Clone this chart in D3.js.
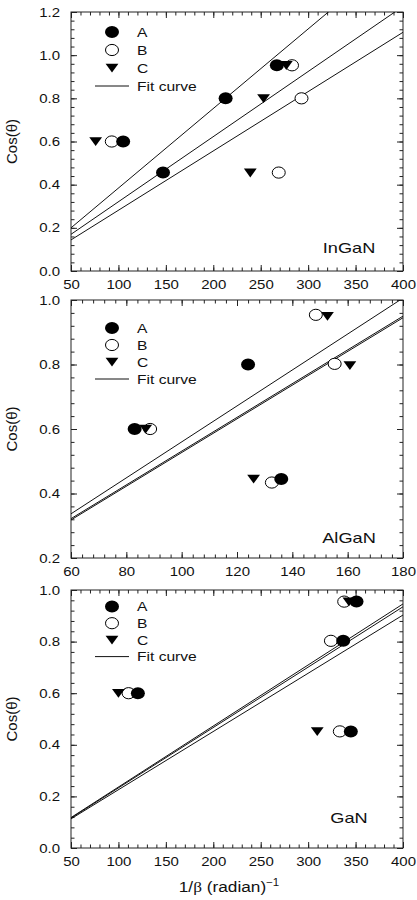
<!DOCTYPE html>
<html>
<head>
<meta charset="utf-8">
<script src="https://cdn.jsdelivr.net/npm/d3@7/dist/d3.min.js"></script>
<style>
body{margin:0;background:#fff;}
svg{display:block;}
text{font-family:"Liberation Sans",Arial,sans-serif;fill:#111;}
</style>
</head>
<body>
<script>
//panel and series names
var panelNames = ["InGaN", "AlGaN", "GaN"];
var seriesNames = ["A", "B", "C"];
var fitName = "Fit curve";

//axis domains and tick labels
var inganXTicks = [50, 100, 150, 200, 250, 300, 350, 400];
var inganYTicks = [0.0, 0.2, 0.4, 0.6, 0.8, 1.0, 1.2];
var alganXTicks = [60, 80, 100, 120, 140, 160, 180];
var alganYTicks = [0.2, 0.4, 0.6, 0.8, 1.0];
var ganXTicks = [50, 100, 150, 200, 250, 300, 350, 400];
var ganYTicks = [0.0, 0.2, 0.4, 0.6, 0.8, 1.0];

//points [1/beta, cos(theta)]
var inganA = [[105, 0.60], [147, 0.456], [213, 0.80], [267, 0.953]];
var inganB = [[93, 0.60], [269, 0.456], [293, 0.80], [283, 0.953]];
var inganC = [[76, 0.60], [239, 0.455], [253, 0.80], [277, 0.953]];
var alganA = [[83, 0.60], [124, 0.80], [136, 0.445]];
var alganB = [[88.6, 0.60], [132.6, 0.434], [148.5, 0.954], [155.3, 0.802]];
var alganC = [[87, 0.60], [126, 0.445], [152.7, 0.95], [160.8, 0.797]];
var ganA = [[120.5, 0.60], [337, 0.803], [345, 0.452], [351, 0.955]];
var ganB = [[110.7, 0.60], [324, 0.803], [333.4, 0.452], [338, 0.955]];
var ganC = [[100, 0.60], [309.6, 0.452], [343, 0.955]];

//fit lines: value at left and right end of the x axis
var inganFit = [[0.200, 1.490], [0.170, 1.226], [0.144, 1.106]];
var alganFit = [[0.337, 1.006], [0.322, 0.950], [0.318, 0.945]];
var ganFit = [[0.118, 0.946], [0.116, 0.935], [0.113, 0.903]];

//layout
var width = 417, height = 900;
var plotLeft = 71, plotRight = 403;
var panelTops = [12, 300, 590], panelBottoms = [271, 558, 848];
var xMinorSteps = [10, 4, 10];
var legendTops = [32, 328, 606.5], legendSteps = [18, 17, 16.7];
var labelBaselines = [253, 543, 823];

var panels = [
    {name: panelNames[0], xTicks: inganXTicks, yTicks: inganYTicks, series: [inganA, inganB, inganC], fits: inganFit},
    {name: panelNames[1], xTicks: alganXTicks, yTicks: alganYTicks, series: [alganA, alganB, alganC], fits: alganFit},
    {name: panelNames[2], xTicks: ganXTicks, yTicks: ganYTicks, series: [ganA, ganB, ganC], fits: ganFit}
];

var svg = d3.select("body").append("svg")
    .attr("width", width)
    .attr("height", height);

//the text in the figure is a bit wider than plain Arial
function stretchText(sel, k){
    sel.each(function(){
        var t = d3.select(this);
        var x = +t.attr("x") || 0, y = +t.attr("y") || 0;
        t.attr("x", null).attr("y", null)
            .attr("transform", "translate(" + x + "," + y + ") scale(" + k + ",1)");
    });
}

//draw a marker for series i
function drawMarker(g, i){
    if (i == 0){
        g.append("ellipse").attr("rx", 7).attr("ry", 6).attr("fill", "#000");
    } else if (i == 1){
        g.append("ellipse").attr("rx", 6.5).attr("ry", 5.6)
            .attr("fill", "#fff").attr("stroke", "#000").attr("stroke-width", 1);
    } else {
        g.append("path").attr("d", "M-6.4,-4.2L6.4,-4.2L0,4.6Z").attr("fill", "#000");
    }
}

panels.forEach(function(p, k){
    var top = panelTops[k], bottom = panelBottoms[k];
    var xDom = [p.xTicks[0], p.xTicks[p.xTicks.length - 1]];
    var yDom = [p.yTicks[0], p.yTicks[p.yTicks.length - 1]];

    var x = d3.scaleLinear().domain(xDom).range([plotLeft, plotRight]);
    var y = d3.scaleLinear().domain(yDom).range([bottom, top]);

    var g = svg.append("g").attr("class", "panel");

    //minor ticks
    var xMinor = d3.range(xDom[0], xDom[1] + 0.001, xMinorSteps[k]);
    var yMinor = d3.range(yDom[0], yDom[1] + 0.0001, 0.04);

    function addAxis(axis, tx, ty){
        var a = g.append("g")
            .attr("transform", "translate(" + tx + "," + ty + ")")
            .call(axis);
        a.select(".domain").remove();
        a.selectAll("line").attr("stroke", "#222");
        return a;
    }

    addAxis(d3.axisBottom(x).tickValues(xMinor).tickSize(-3.5).tickFormat(""), 0, bottom);
    addAxis(d3.axisTop(x).tickValues(xMinor).tickSize(-3.5).tickFormat(""), 0, top);
    addAxis(d3.axisLeft(y).tickValues(yMinor).tickSize(-3.5).tickFormat(""), plotLeft, 0);
    addAxis(d3.axisRight(y).tickValues(yMinor).tickSize(-3.5).tickFormat(""), plotRight, 0);

    var xb = addAxis(d3.axisBottom(x).tickValues(p.xTicks).tickSize(-6).tickPadding(9.6)
        .tickFormat(d3.format("d")), 0, bottom);
    addAxis(d3.axisTop(x).tickValues(p.xTicks).tickSize(-6).tickFormat(""), 0, top);
    var yl = addAxis(d3.axisLeft(y).tickValues(p.yTicks).tickSize(-6).tickPadding(11)
        .tickFormat(d3.format(".1f")), plotLeft, 0);
    addAxis(d3.axisRight(y).tickValues(p.yTicks).tickSize(-6).tickFormat(""), plotRight, 0);

    [xb, yl].forEach(function(a){
        a.attr("font-size", 12.5).attr("font-family", "Liberation Sans, Arial, sans-serif");
        a.selectAll("text").attr("fill", "#111");
        stretchText(a.selectAll("text"), 1.2);
    });

    //frame
    g.append("rect")
        .attr("x", plotLeft).attr("y", top)
        .attr("width", plotRight - plotLeft).attr("height", bottom - top)
        .attr("fill", "none").attr("stroke", "#222").attr("stroke-width", 1);

    //fit lines, clipped to the plot area
    var clipId = "clip" + k;
    svg.append("clipPath").attr("id", clipId).append("rect")
        .attr("x", plotLeft).attr("y", top)
        .attr("width", plotRight - plotLeft).attr("height", bottom - top);

    var line = d3.line()
        .x(function(d){ return x(d[0]); })
        .y(function(d){ return y(d[1]); });

    g.append("g").attr("clip-path", "url(#" + clipId + ")")
        .selectAll("path")
        .data(p.fits)
        .enter()
        .append("path")
        .attr("d", function(d){ return line([[xDom[0], d[0]], [xDom[1], d[1]]]); })
        .attr("fill", "none")
        .attr("stroke", "#111")
        .attr("stroke-width", 1);

    //points: B first, then A, then C on top
    [1, 0, 2].forEach(function(i){
        p.series[i].forEach(function(d){
            var m = g.append("g")
                .attr("transform", "translate(" + x(d[0]) + "," + y(d[1]) + ")");
            drawMarker(m, i);
        });
    });

    //legend
    var legend = g.append("g").attr("class", "legend");
    seriesNames.forEach(function(s, i){
        var ly = legendTops[k] + i * legendSteps[k];
        drawMarker(legend.append("g").attr("transform", "translate(112," + ly + ")"), i);
        legend.append("text")
            .attr("x", 137).attr("y", ly)
            .attr("dy", "0.36em")
            .attr("font-size", 13)
            .text(s)
            .call(stretchText, 1.2);
    });
    var fy = legendTops[k] + 3 * legendSteps[k];
    legend.append("line")
        .attr("x1", 95).attr("x2", 129)
        .attr("y1", fy).attr("y2", fy)
        .attr("stroke", "#111").attr("stroke-width", 1);
    legend.append("text")
        .attr("x", 137).attr("y", fy)
        .attr("dy", "0.36em")
        .attr("font-size", 13)
        .text(fitName)
        .call(stretchText, 1.2);

    //panel name
    g.append("text")
        .attr("x", 349).attr("y", labelBaselines[k])
        .attr("text-anchor", "middle")
        .attr("font-size", 14)
        .text(p.name)
        .call(stretchText, 1.3);

    //y axis title
    g.append("text")
        .attr("transform", "translate(17," + ((top + bottom) / 2) + ") rotate(-90)")
        .attr("text-anchor", "middle")
        .attr("font-size", 15)
        .text("Cos(\u03b8)");
});

//x axis title under the last panel
var xt = svg.append("text")
    .attr("x", 229).attr("y", 892)
    .attr("text-anchor", "middle")
    .attr("font-size", 15);
xt.append("tspan").text("1/");
xt.append("tspan").attr("font-family", "Liberation Serif, Times New Roman, serif").text("\u03b2");
xt.append("tspan").text(" (radian)");
xt.append("tspan").attr("font-size", 10).attr("dy", -6).text("\u22121");
stretchText(xt, 1.15);
</script>
</body>
</html>
